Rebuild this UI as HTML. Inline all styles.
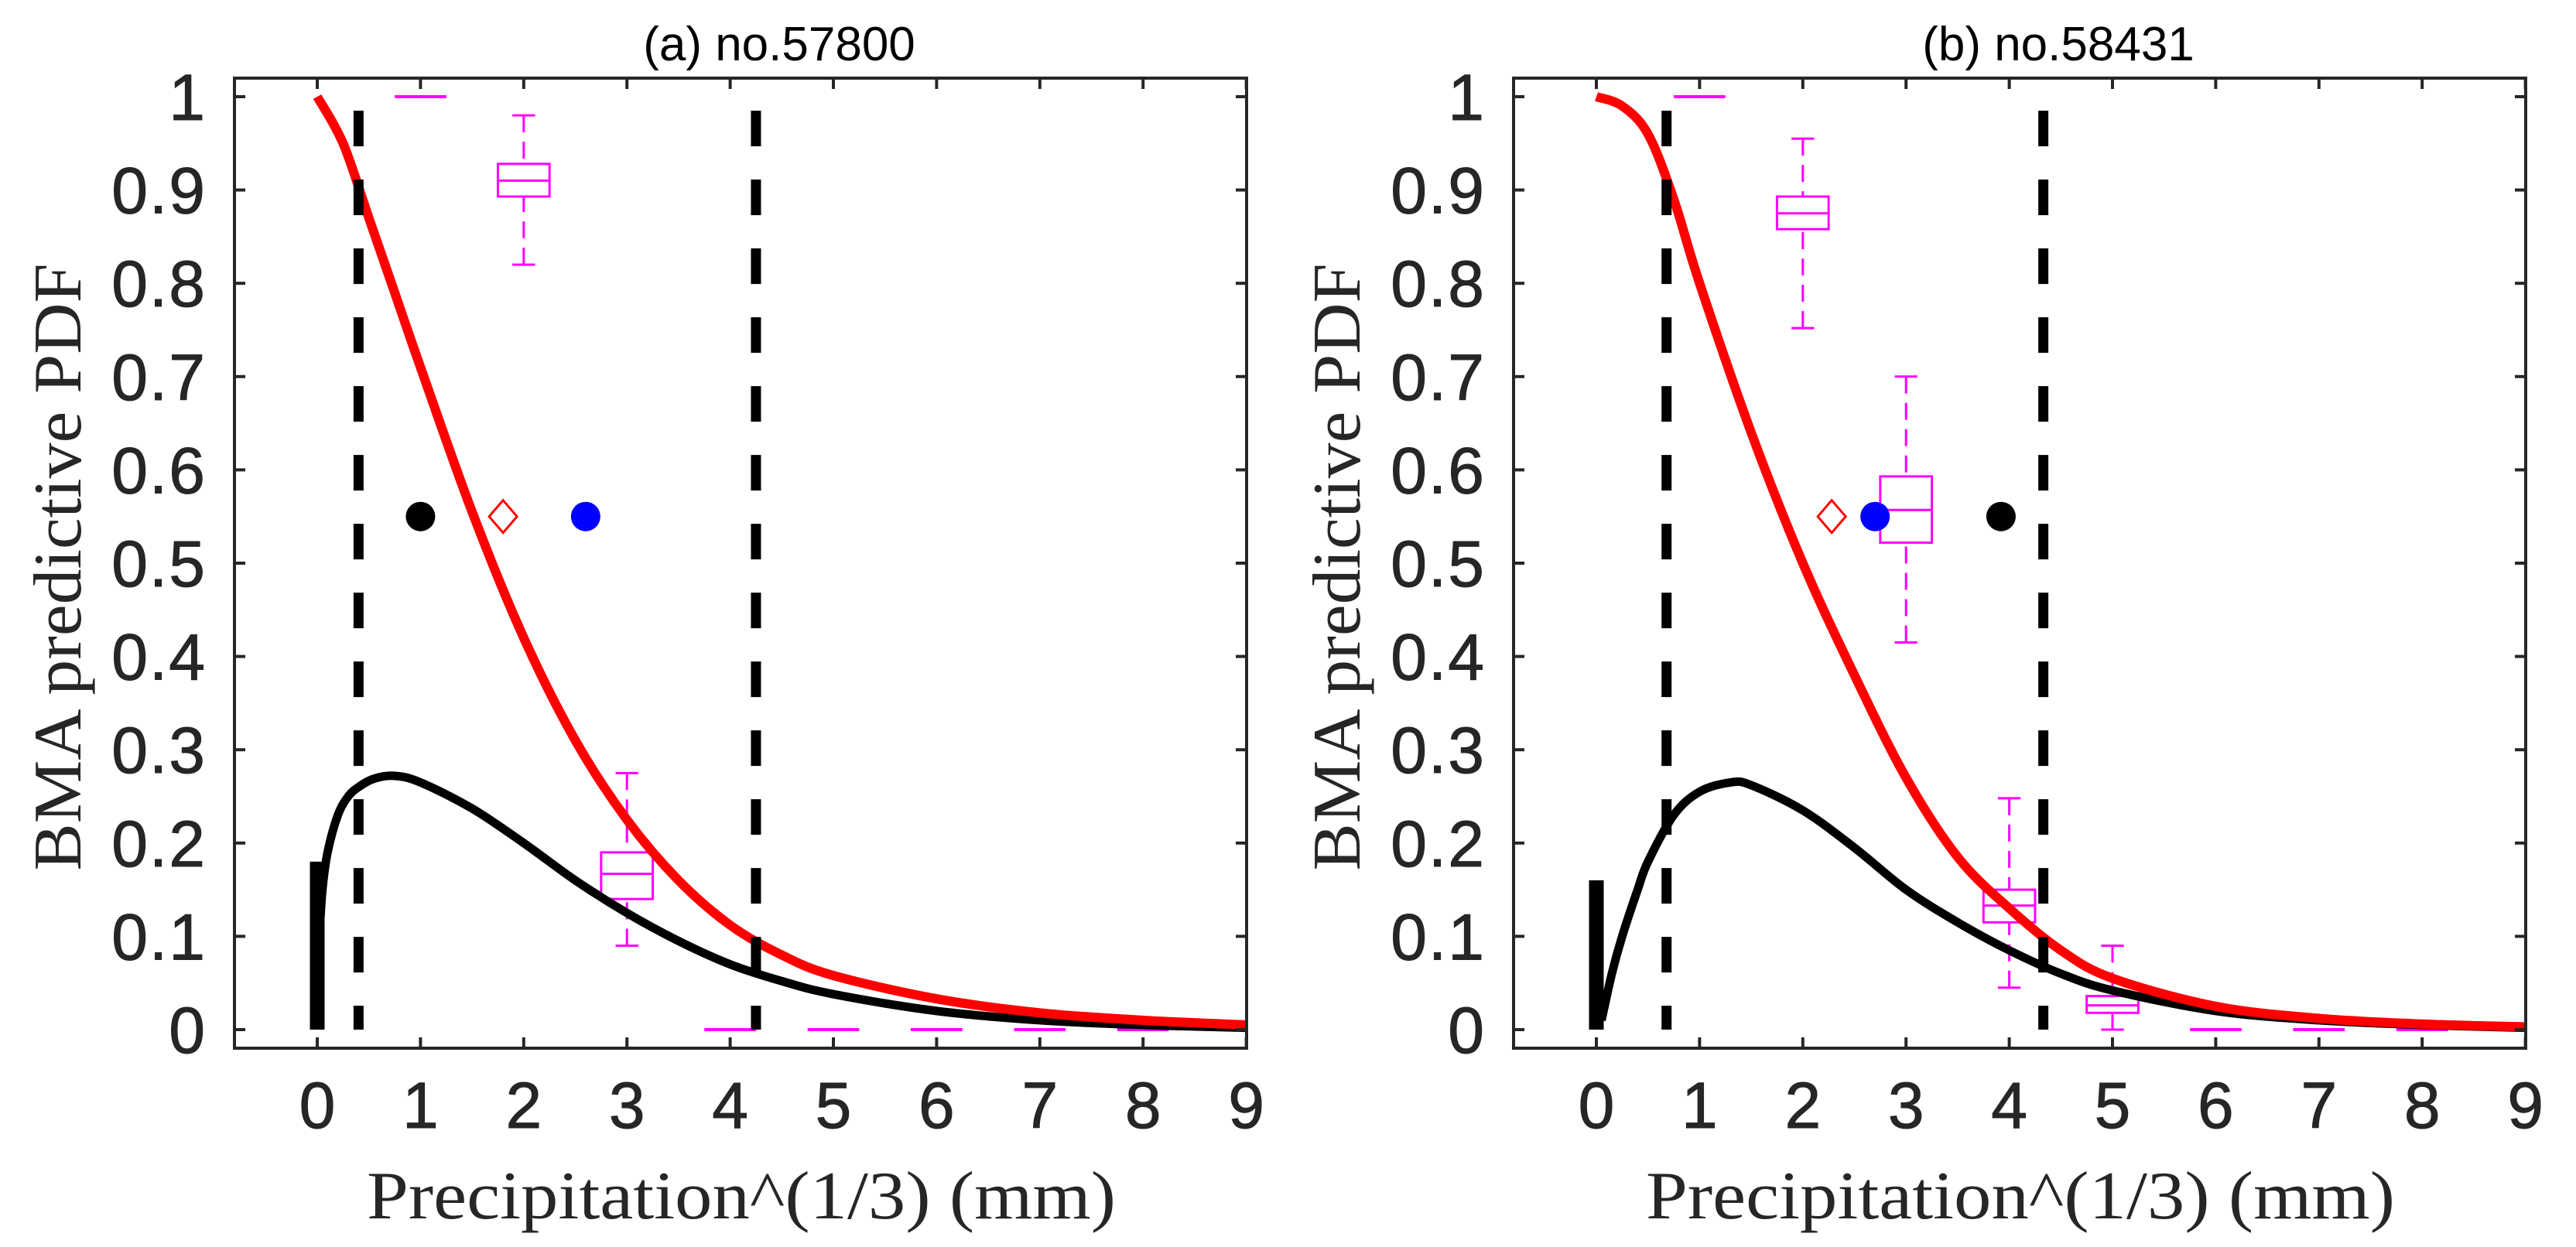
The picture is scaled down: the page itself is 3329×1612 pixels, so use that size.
<!DOCTYPE html>
<html><head><meta charset="utf-8"><style>
html,body{margin:0;padding:0;background:#fff;}
svg{display:block;}
</style></head><body>
<svg id="chart" width="3329" height="1612" viewBox="0 0 3329 1612" xmlns="http://www.w3.org/2000/svg"></svg>
<script>
// ---------- data ----------
const xTicks = [0,1,2,3,4,5,6,7,8,9];
const yTicks = [0,0.1,0.2,0.3,0.4,0.5,0.6,0.7,0.8,0.9,1];
const yTickLabels = ["0","0.1","0.2","0.3","0.4","0.5","0.6","0.7","0.8","0.9","1"];

const aRedX = [0,0.25,0.5,0.75,1,1.5,2,2.5,3,3.5,4,4.5,5,6,7,8,9];
const aRedY = [1,0.95,0.87,0.79,0.71,0.555,0.42,0.31,0.225,0.16,0.112,0.08,0.058,0.033,0.018,0.01,0.005];
const aBlkX = [0.02,0.05,0.1,0.2,0.3,0.4,0.55,0.75,1,1.5,2,2.5,3,3.5,4,4.5,5,6,7,8,9];
const aBlkY = [0.1,0.15,0.19,0.23,0.25,0.26,0.269,0.272,0.265,0.237,0.2,0.16,0.125,0.095,0.07,0.052,0.038,0.02,0.01,0.005,0.002];
const aSpike = 0.18;
const aDash = [0.4,4.25];
const aMarkers = {obs:1.0, diamond:1.8, blue:2.6};
const aBoxX = [1,2,3,4,5,6,7,8,9];
const aBoxLo = [1,0.82,0.09,0,0,0,0,0,0];
const aBoxQ1 = [1,0.893,0.14,0,0,0,0,0,0];
const aBoxMed = [1,0.91,0.167,0,0,0,0,0,0];
const aBoxQ3 = [1,0.928,0.19,0,0,0,0,0,0];
const aBoxHi = [1,0.98,0.275,0,0,0,0,0,0];

const bRedX = [0,0.25,0.5,0.75,1,1.5,2,2.5,3,3.5,4,4.5,5,6,7,8,9];
const bRedY = [1,0.99,0.96,0.89,0.8,0.64,0.5,0.38,0.27,0.185,0.13,0.085,0.055,0.025,0.012,0.006,0.003];
const bBlkX = [0.05,0.15,0.25,0.4,0.5,0.75,1,1.3,1.5,2,2.5,3,3.5,4,4.5,5,6,7,8,9];
const bBlkY = [0.01,0.06,0.1,0.15,0.18,0.23,0.255,0.265,0.262,0.235,0.195,0.15,0.115,0.085,0.06,0.042,0.02,0.01,0.005,0.002];
const bSpike = 0.16;
const bDash = [0.68,4.33];
const bMarkers = {obs:3.92, diamond:2.28, blue:2.7};
const bBoxX = [1,2,3,4,5,6,7,8,9];
const bBoxLo = [1,0.752,0.415,0.045,0,0,0,0,0];
const bBoxQ1 = [1,0.858,0.522,0.115,0.018,0,0,0,0];
const bBoxMed = [1,0.875,0.557,0.133,0.026,0,0,0,0];
const bBoxQ3 = [1,0.893,0.593,0.15,0.036,0,0,0,0];
const bBoxHi = [1,0.955,0.7,0.248,0.09,0,0,0,0];

// ---------- drawing ----------
const NS = "http://www.w3.org/2000/svg";
const svg = document.getElementById("chart");
function mk(tag, attrs, parent){
  const e = document.createElementNS(NS, tag);
  for (const k in attrs) e.setAttribute(k, attrs[k]);
  (parent||svg).appendChild(e);
  return e;
}
function smoothPath(pts){
  let d = "M" + pts[0][0] + "," + pts[0][1];
  for (let i = 0; i < pts.length - 1; i++){
    const p0 = pts[Math.max(0,i-1)], p1 = pts[i], p2 = pts[i+1], p3 = pts[Math.min(pts.length-1,i+2)];
    const c1x = p1[0] + (p2[0]-p0[0])/6, c1y = p1[1] + (p2[1]-p0[1])/6;
    const c2x = p2[0] - (p3[0]-p1[0])/6, c2y = p2[1] - (p3[1]-p1[1])/6;
    d += " C" + c1x + "," + c1y + " " + c2x + "," + c2y + " " + p2[0] + "," + p2[1];
  }
  return d;
}

function panel(id, offX, title, redX, redY, blkX, blkY, spike, dash, markers, bx, blo, bq1, bmed, bq3, bhi){
  const X0 = 410 + offX, UX = 133.4;
  const Y0 = 1331, UY = 1206;
  const L = 303 + offX, R = 1611 + offX, T = 101, B = 1355;
  const sx = v => X0 + v*UX;
  const sy = v => Y0 - v*UY;
  const g = mk("g", {});
  
  
  const cp = mk("clipPath", {id:"clip"+id}, g);
  mk("rect", {x:L, y:T, width:R-L, height:B-T}, cp);
  const plot = mk("g", {"clip-path":"url(#clip"+id+")"}, g);
  
  

  bx.forEach((x,i)=>{
    const bg = mk("g", {stroke:"#ff00ff", fill:"none", "stroke-width":3}, plot);
    
    
    const hw = 0.25, cw = 0.11;
    if (bhi[i] - blo[i] < 1e-6) {
      mk("line", {x1:sx(x-hw), x2:sx(x+hw), y1:sy(bmed[i]), y2:sy(bmed[i]), "stroke-width":4}, bg);
      return;
    }
    mk("line", {x1:sx(x), x2:sx(x), y1:sy(bhi[i]), y2:sy(bq3[i]), "stroke-dasharray":"22 12"}, bg);
    mk("line", {x1:sx(x), x2:sx(x), y1:sy(blo[i]), y2:sy(bq1[i]), "stroke-dasharray":"22 12"}, bg);
    mk("line", {x1:sx(x-cw), x2:sx(x+cw), y1:sy(bhi[i]), y2:sy(bhi[i])}, bg);
    mk("line", {x1:sx(x-cw), x2:sx(x+cw), y1:sy(blo[i]), y2:sy(blo[i])}, bg);
    mk("rect", {x:sx(x-hw), y:sy(bq3[i]), width:sx(x+hw)-sx(x-hw), height:sy(bq1[i])-sy(bq3[i])}, bg);
    mk("line", {x1:sx(x-hw), x2:sx(x+hw), y1:sy(bmed[i]), y2:sy(bmed[i])}, bg);
  });

  const sp = mk("line", {x1:sx(0), x2:sx(0), y1:sy(0), y2:sy(spike), stroke:"#000", "stroke-width":19}, plot);
  
  
  const bl = mk("path", {d: smoothPath(blkX.map((x,i)=>[sx(x), sy(blkY[i])])), fill:"none", stroke:"#000", "stroke-width":11, "stroke-linejoin":"round"}, plot);
  
  

  const rd = mk("path", {d: smoothPath(redX.map((x,i)=>[sx(x), sy(redY[i])])), fill:"none", stroke:"#ff0000", "stroke-width":12, "stroke-linejoin":"round"}, plot);
  
  

  dash.forEach((d,k)=>{
    const dl = mk("line", {x1:sx(d), x2:sx(d), y1:sy(0.985), y2:sy(0), stroke:"#000", "stroke-width":13, "stroke-dasharray":"46 43"}, plot);
    
    
  });

  const my = sy(0.55);
  const m1 = mk("circle", {cx:sx(markers.obs), cy:my, r:19, fill:"#000"}, plot);
  
  
  const m2 = mk("circle", {cx:sx(markers.blue), cy:my, r:19, fill:"#0000ff"}, plot);
  
  
  const dx = sx(markers.diamond);
  const m3 = mk("polygon", {points:`${dx},${my-21} ${dx+18},${my} ${dx},${my+21} ${dx-18},${my}`, fill:"none", stroke:"#ff0000", "stroke-width":3}, plot);
  
  

  const ax = mk("rect", {x:L, y:T, width:R-L, height:B-T, fill:"none", stroke:"#262626", "stroke-width":4}, g);
  
  
  xTicks.forEach(t=>{
    mk("line", {x1:sx(t), x2:sx(t), y1:B, y2:B-14, stroke:"#262626", "stroke-width":4}, g);
    mk("line", {x1:sx(t), x2:sx(t), y1:T, y2:T+14, stroke:"#262626", "stroke-width":4}, g);
    const tl = mk("text", {x:sx(t), y:1458, "text-anchor":"middle", "font-family":"Liberation Sans, Arial, sans-serif", "font-size":84, "stroke":"#262626", "stroke-width":1, fill:"#262626"}, g);
    tl.textContent = String(t);
    
    
  });
  yTicks.forEach((t,i)=>{
    mk("line", {x1:L, x2:L+14, y1:sy(t), y2:sy(t), stroke:"#262626", "stroke-width":4}, g);
    mk("line", {x1:R, x2:R-14, y1:sy(t), y2:sy(t), stroke:"#262626", "stroke-width":4}, g);
    const tl = mk("text", {x:L-36, y:sy(t)+30, "text-anchor":"end", "font-family":"Liberation Sans, Arial, sans-serif", "font-size":84, "letter-spacing":2, "stroke":"#262626", "stroke-width":1, fill:"#262626"}, g);
    tl.textContent = yTickLabels[i];
    
    
  });
  const tt = mk("text", {x:(L+R)/2 + 50, y:78, "text-anchor":"middle", "font-family":"Liberation Sans, Arial, sans-serif", "font-size":62, fill:"#000"}, g);
  tt.textContent = title;
  
  
  const xt = mk("text", {x:958+offX, y:1575, "text-anchor":"middle", "font-family":"Liberation Serif, serif", "font-size":88, fill:"#262626", textLength:968, lengthAdjust:"spacingAndGlyphs"}, g);
  xt.textContent = "Precipitation^(1/3) (mm)";
  
  
  const yt = mk("text", {x:0, y:0, "text-anchor":"middle", "font-family":"Liberation Serif, serif", "font-size":88, fill:"#262626", textLength:785, lengthAdjust:"spacingAndGlyphs", transform:`translate(${104+offX},733) rotate(-90)`}, g);
  yt.textContent = "BMA predictive PDF";
  
  
}

panel("a", 0, "(a) no.57800", aRedX, aRedY, aBlkX, aBlkY, aSpike, aDash, aMarkers, aBoxX, aBoxLo, aBoxQ1, aBoxMed, aBoxQ3, aBoxHi);
panel("b", 1653, "(b) no.58431", bRedX, bRedY, bBlkX, bBlkY, bSpike, bDash, bMarkers, bBoxX, bBoxLo, bBoxQ1, bBoxMed, bBoxQ3, bBoxHi);
</script>
</body></html>
